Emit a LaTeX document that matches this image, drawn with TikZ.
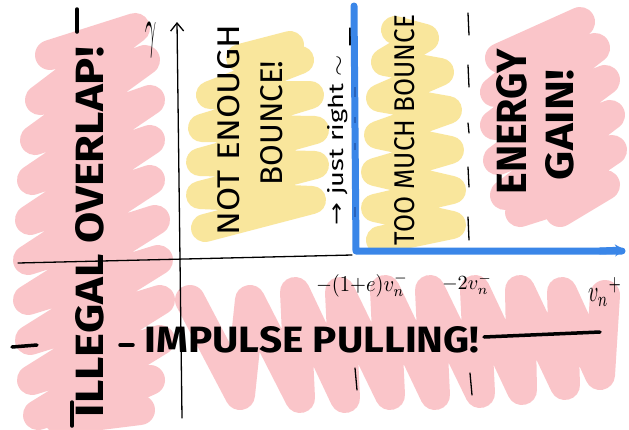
\documentclass[tikz,border=0pt]{standalone}
\usepackage{fontspec}
\usepackage{graphicx}
\setmainfont{Fira Sans}
\newfontfamily\symfont{DejaVu Sans}
\usetikzlibrary{arrows.meta}
\definecolor{pinkhl}{RGB}{250,188,192}
\definecolor{yellowhl}{RGB}{249,228,146}
\definecolor{bluepen}{RGB}{58,134,232}
\definecolor{bluedark}{RGB}{40,100,190}
\newcommand{\hw}[3]{\resizebox{#1pt}{#2pt}{\bfseries #3}}
\newcommand{\tw}[3]{\resizebox{#1pt}{#2pt}{#3}}
\begin{document}
\begin{tikzpicture}[x=1pt,y=-1pt,
  pinkscrib/.style={draw=pinkhl,line width=30pt,line cap=round,line join=round,opacity=0.85},
  yelscrib/.style={draw=yellowhl,line width=28pt,line cap=round,line join=round,opacity=0.9},
  pen/.style={draw=black,line width=1.3pt,line cap=round},
  marker/.style={draw=black,line width=3.5pt,line cap=round},
  bluestroke/.style={draw=bluepen,line width=7pt,line cap=round,line join=round},
  lbl/.style={inner sep=0pt,text=black}]
\fill[white] (0,0) rectangle (629,429);
\useasboundingbox (0,0) rectangle (629,429);
% ---- pink scribbles, left
\draw[pinkscrib] (50,55) -- (135,28) -- (40,100) -- (145,60) -- (35,140) -- (150,100)
  -- (32,180) -- (150,140) -- (30,220) -- (150,180) -- (28,260) -- (155,220)
  -- (28,300) -- (158,260) -- (30,340) -- (160,300) -- (32,380) -- (160,340)
  -- (38,415) -- (150,380) -- (60,420) -- (140,410);
% ---- pink scribbles, bottom
\draw[pinkscrib] (190,300) -- (240,395) -- (250,300) -- (300,398) -- (295,292) -- (345,398)
  -- (340,292) -- (390,395) -- (385,290) -- (435,395) -- (430,290) -- (480,393)
  -- (475,290) -- (522,390) -- (520,290) -- (565,385) -- (562,292) -- (600,375) -- (605,295);
% ---- pink scribbles, right
\draw[pinkscrib] (500,58) -- (580,22) -- (495,92) -- (595,48) -- (495,125)
  -- (605,80) -- (498,160) -- (610,115) -- (505,195) -- (612,150) -- (520,212)
  -- (605,185) -- (560,212);
% ---- yellow scribbles
\draw[yelscrib] (205,228) -- (312,200) -- (200,195) -- (315,165) -- (200,162)
  -- (315,130) -- (202,128) -- (310,95) -- (210,95) -- (300,60) -- (240,58) -- (290,45);
\draw[yelscrib] (380,240) -- (452,225) -- (375,208) -- (452,190) -- (375,172)
  -- (450,150) -- (378,135) -- (448,110) -- (380,98) -- (440,72) -- (385,62)
  -- (425,38) -- (395,30);
% ---- axes
\draw[pen] (18,263) -- (352,255);
\draw[pen,-{Straight Barb[length=8pt,width=13pt]}] (182,418) -- (177,22);
\node[lbl] (gam) at (151,40) {\tw{11}{24}{$\gamma$}};
% ---- dashed lines
\foreach \a/\b in {13/35,65/87,123/133,167/187,217/240}
  \draw[pen] (468,\a) -- (469,\b);
\draw[pen] (350,28) -- (350,45);
\draw[pen] (355,368) -- (357,390);
\draw[pen] (470,373) -- (472,395);
% ---- blue L
\draw[bluestroke] (354,6) -- (356,251) -- (622,251);
\draw[bluestroke,-{Stealth[length=10pt,width=12pt]}] (600,251) -- (625,250);
\foreach \a/\b in {87/97,117/123,143/150,207/217}
  \draw[draw=bluedark,line width=1.2pt] (355,\a) -- (355,\b);
% ---- labels
\node[lbl,rotate=90] (illegal) at (90,232) {\hw{370}{28}{ILLEGAL OVERLAP!}};
\draw[marker] (77,9) -- (77,32);
\draw[marker] (72,402) -- (72,426);
\node[lbl] (impulse) at (312,340) {\hw{335}{26}{IMPULSE PULLING!}};
\draw[marker] (12,347) -- (37,345);
\draw[marker] (120,345) -- (133,345);
\draw[marker] (484,337) -- (600,332);
\node[lbl,rotate=90] (notenough) at (229,130) {\tw{210}{22}{NOT ENOUGH}};
\node[lbl,rotate=90] (bounce) at (272,123) {\tw{125}{22}{BOUNCE!}};
\node[lbl,rotate=90] (toomuch) at (405,130) {\tw{230}{20}{TOO MUCH BOUNCE}};
\node[lbl,rotate=90] (energy) at (512,122) {\hw{145}{30}{ENERGY}};
\node[lbl,rotate=90] (gain) at (560,125) {\hw{110}{28}{GAIN!}};
\node[lbl,rotate=90] (justright) at (338,140) {\tw{170}{16}{{\symfont →} just right $\sim$}};
\node[lbl] (vneg) at (362,285) {\tw{92}{18}{$-(1{+}e)v_n^-$}};
\node[lbl] (twov) at (467,284) {\tw{50}{16}{$-2v_n^-$}};
\node[lbl] (vplus) at (605,292) {\tw{34}{24}{$v_n{}^{+}$}};
\end{tikzpicture}
\end{document}
